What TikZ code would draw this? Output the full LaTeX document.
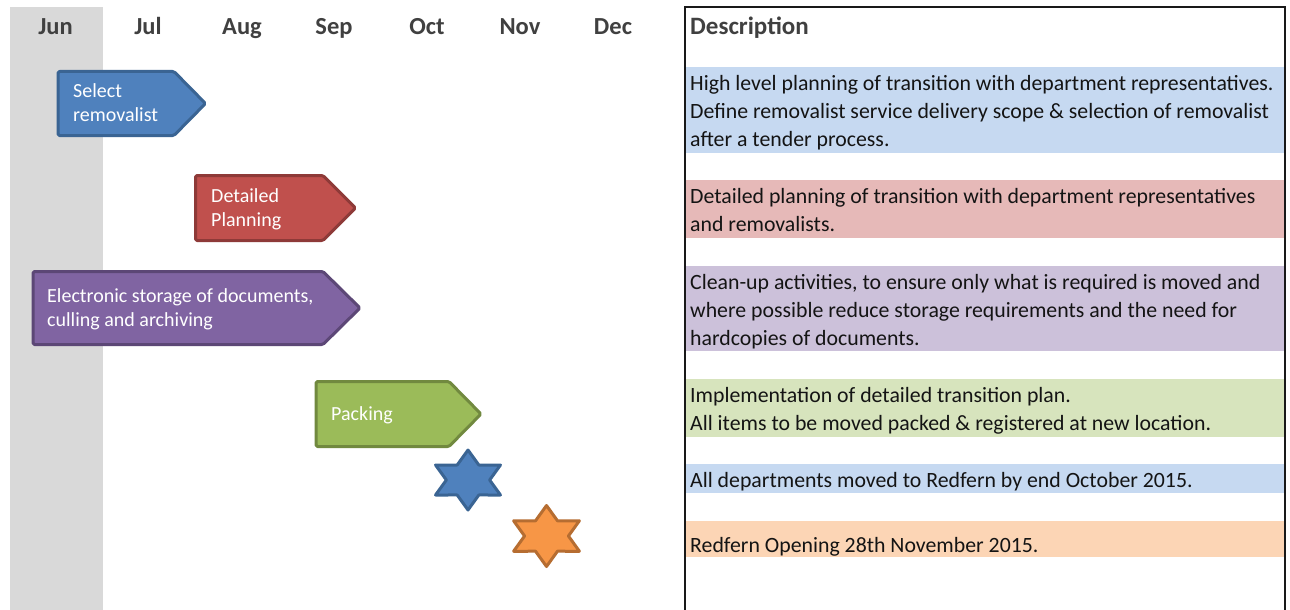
\documentclass[tikz,border=0pt]{standalone}
\usepackage{fontspec}
\setmainfont{Carlito}

% phase colours
\definecolor{headgrey}{HTML}{404040}
\definecolor{colgrey}{HTML}{D9D9D9}
\definecolor{selFill}{HTML}{4F81BD}\definecolor{selLine}{HTML}{3A6493}
\definecolor{detFill}{HTML}{C0504D}\definecolor{detLine}{HTML}{8E3A38}
\definecolor{eleFill}{HTML}{8064A2}\definecolor{eleLine}{HTML}{5C4776}
\definecolor{pakFill}{HTML}{9BBB59}\definecolor{pakLine}{HTML}{71893F}
\definecolor{oraFill}{HTML}{F79646}\definecolor{oraLine}{HTML}{B66D31}
% description bands
\definecolor{bandBlue}{HTML}{C6D9F1}
\definecolor{bandRed}{HTML}{E6B9B8}
\definecolor{bandPurple}{HTML}{CCC1DA}
\definecolor{bandGreen}{HTML}{D7E4BD}
\definecolor{bandOrange}{HTML}{FCD5B5}

% several left-aligned lines whose baseline is that of the first line
\newcommand{\toplines}[1]{\vtop{\halign{##\hfil\cr#1\crcr}}}

\begin{document}
\begin{tikzpicture}[x=1pt,y=-1pt,
  month/.style={font=\fontsize{24.5}{28}\selectfont\bfseries, text=headgrey, anchor=base, inner sep=0},
  head/.style={font=\fontsize{25}{28}\selectfont\bfseries, text=headgrey, anchor=base west, inner sep=0},
  desc/.style={font=\fontsize{21.8}{28.2}\selectfont, text=black!92, anchor=base west, inner sep=0},
  phasetext/.style={font=\fontsize{20}{24.5}\selectfont, text=white, anchor=base west, inner sep=0},
  phase/.style={line width=3pt, line join=round, rounded corners=1.5pt},
  milestone/.style={line width=3pt, line join=round}]

\path[use as bounding box, fill=white] (0,0) rectangle (1290,610);

% current month column
\fill[colgrey] (9.5,7.5) rectangle (103,609.5);

% month header
\node[month] (jun) at (55.5,35) {Jun};
\node[month] (jul) at (148,35) {Jul};
\node[month] (aug) at (242,35) {Aug};
\node[month] (sep) at (334,35) {Sep};
\node[month] (oct) at (427,35) {Oct};
\node[month] (nov) at (520,35) {Nov};
\node[month] (dec) at (613,35) {Dec};

% phases
\draw[phase, fill=selFill, draw=selLine]
  (58,71.5) -- (174,71.5) -- (205.5,103.5) -- (174,135.5) -- (58,135.5) -- cycle;
\node[phasetext] (select) at (73,97) {\toplines{Select\cr removalist}};

\draw[phase, fill=detFill, draw=detLine]
  (195.5,175.5) -- (323,175.5) -- (355.5,208) -- (323,240.5) -- (195.5,240.5) -- cycle;
\node[phasetext] (detailed) at (211,202) {\toplines{Detailed\cr Planning}};

\draw[phase, fill=eleFill, draw=eleLine]
  (33,271.5) -- (323,271.5) -- (360,308) -- (323,344.5) -- (33,344.5) -- cycle;
\node[phasetext] (storage) at (47,302) {\toplines{Electronic storage of documents,\cr culling and archiving}};

\draw[phase, fill=pakFill, draw=pakLine]
  (316,381.5) -- (449,381.5) -- (481,414) -- (449,446.5) -- (316,446.5) -- cycle;
\node[phasetext] (packing) at (331,420) {Packing};

% milestones
\begin{scope}[shift={(468,480)}, xscale=37.5, yscale=30]
  \draw[milestone, fill=selFill, draw=selLine]
    (90:1) -- (60:0.577) -- (30:1) -- (0:0.577) -- (-30:1) -- (-60:0.577) --
    (-90:1) -- (-120:0.577) -- (-150:1) -- (180:0.577) -- (150:1) -- (120:0.577) -- cycle;
\end{scope}
\begin{scope}[shift={(546.5,536)}, xscale=38, yscale=30.5]
  \draw[milestone, fill=oraFill, draw=oraLine]
    (90:1) -- (60:0.577) -- (30:1) -- (0:0.577) -- (-30:1) -- (-60:0.577) --
    (-90:1) -- (-120:0.577) -- (-150:1) -- (180:0.577) -- (150:1) -- (120:0.577) -- cycle;
\end{scope}

% description panel
\fill[bandBlue]   (686,67)  rectangle (1284,153);
\fill[bandRed]    (686,180) rectangle (1284,238);
\fill[bandPurple] (686,266) rectangle (1284,351);
\fill[bandGreen]  (686,379) rectangle (1284,437);
\fill[bandBlue]   (686,464) rectangle (1284,493);
\fill[bandOrange] (686,521) rectangle (1284,557);
\draw[line width=2pt, draw=black!90] (685,614) -- (685,7) -- (1285,7) -- (1285,614);

\node[head] (description) at (690,35) {Description};

\node[desc] (d1) at (690,90) {\toplines{High level planning of transition with department representatives.\cr
  Define removalist service delivery scope \& selection of removalist\cr
  after a tender process.}};
\node[desc] (d2) at (690,203) {\toplines{Detailed planning of transition with department representatives\cr
  and removalists.}};
\node[desc] (d3) at (690,289) {\toplines{Clean-up activities, to ensure only what is required is moved and\cr
  where possible reduce storage requirements and the need for\cr
  hardcopies of documents.}};
\node[desc] (d4) at (690,402) {\toplines{Implementation of detailed transition plan.\cr
  All items to be moved packed \& registered at new location.}};
\node[desc] (d5) at (690,487) {All departments moved to Redfern by end October 2015.};
\node[desc] (d6) at (690,552) {Redfern Opening 28th November 2015.};

\end{tikzpicture}
\end{document}
